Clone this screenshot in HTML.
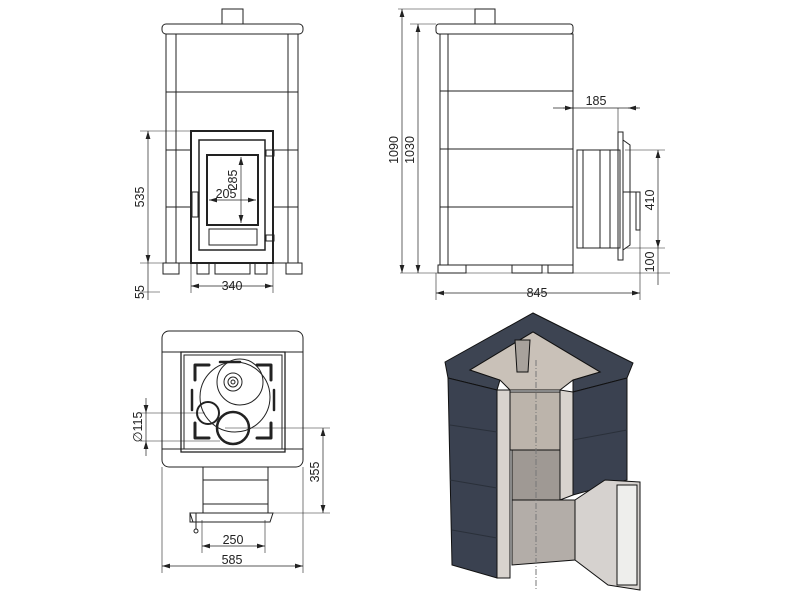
<!DOCTYPE html>
<html><head><meta charset="utf-8"><style>
html,body{margin:0;padding:0;background:#fff;width:800px;height:600px;overflow:hidden}
svg{display:block}
text{font-family:"Liberation Sans",sans-serif;font-size:12.5px;fill:#222}
</style></head><body>
<svg width="800" height="600" viewBox="0 0 800 600">
<defs>
<marker id="a" viewBox="0 0 10 6" refX="10" refY="3" markerWidth="8" markerHeight="5" orient="auto-start-reverse" markerUnits="userSpaceOnUse"><path d="M0,0L10,3L0,6z" fill="#222"/></marker>
</defs>
<g fill="none" stroke="#222" stroke-width="1">
<!-- FRONT VIEW -->
<rect x="222" y="9" width="21" height="15"/>
<rect x="162" y="24" width="141" height="10" rx="4"/>
<rect x="166" y="34" width="132" height="229"/>
<line x1="176" y1="34" x2="176" y2="263"/><line x1="288" y1="34" x2="288" y2="263"/>
<line x1="166" y1="92" x2="298" y2="92"/>
<line x1="166" y1="150" x2="191" y2="150"/><line x1="273" y1="150" x2="298" y2="150"/>
<line x1="166" y1="207" x2="191" y2="207"/><line x1="273" y1="207" x2="298" y2="207"/>
<rect x="163" y="263" width="16" height="11"/><rect x="286" y="263" width="16" height="11"/>
<rect x="191" y="131" width="82" height="132" stroke-width="2"/>
<rect x="199" y="140" width="66" height="110" stroke-width="1.5"/>
<rect x="207" y="155" width="51" height="70" stroke-width="2"/>
<rect x="209" y="229" width="48" height="16"/>
<rect x="197" y="263" width="12" height="11"/><rect x="215" y="263" width="35" height="11"/><rect x="255" y="263" width="12" height="11"/>
<rect x="266" y="150" width="8" height="6"/><rect x="266" y="235" width="8" height="6"/><rect x="192" y="192" width="6" height="25"/>
<!-- dims front -->
<line x1="140" y1="131" x2="200" y2="131" stroke-width=".6"/>
<line x1="140" y1="263" x2="190" y2="263" stroke-width=".6"/>
<line x1="140" y1="292" x2="160" y2="292" stroke-width=".6"/>
<line x1="148" y1="131" x2="148" y2="263" marker-start="url(#a)" marker-end="url(#a)" stroke-width=".7"/>
<line x1="148" y1="263" x2="148" y2="300" stroke-width=".7"/>
<line x1="191" y1="263" x2="191" y2="293" stroke-width=".6"/><line x1="273" y1="263" x2="273" y2="293" stroke-width=".6"/>
<line x1="191" y1="286" x2="273" y2="286" marker-start="url(#a)" marker-end="url(#a)" stroke-width=".7"/>
<line x1="241" y1="157" x2="241" y2="223" marker-start="url(#a)" marker-end="url(#a)" stroke-width=".7"/>
<line x1="209" y1="200" x2="256" y2="200" marker-start="url(#a)" marker-end="url(#a)" stroke-width=".7"/>
<!-- SIDE VIEW -->
<rect x="475" y="9" width="20" height="15"/>
<rect x="436" y="24" width="137" height="10" rx="3"/>
<rect x="440" y="34" width="133" height="231"/>
<line x1="448" y1="34" x2="448" y2="265"/>
<line x1="440" y1="91" x2="573" y2="91"/><line x1="440" y1="149" x2="573" y2="149"/><line x1="440" y1="207" x2="573" y2="207"/>
<rect x="438" y="265" width="28" height="8"/><rect x="512" y="265" width="30" height="8"/><rect x="548" y="265" width="25" height="8"/>
<rect x="577" y="150" width="43" height="98"/>
<line x1="583" y1="150" x2="583" y2="248"/><line x1="600" y1="150" x2="600" y2="248"/><line x1="610" y1="150" x2="610" y2="248"/>
<rect x="618" y="132" width="5" height="128"/>
<path d="M623,140 L630,145 L630,245 L623,250"/>
<rect x="636" y="192" width="4" height="38"/><line x1="623" y1="192" x2="640" y2="192"/>
<line x1="398" y1="9" x2="494" y2="9" stroke-width=".6"/>
<line x1="402" y1="9" x2="402" y2="273" marker-start="url(#a)" marker-end="url(#a)" stroke-width=".7"/>
<line x1="418" y1="24" x2="418" y2="273" marker-start="url(#a)" marker-end="url(#a)" stroke-width=".7"/>
<line x1="410" y1="24" x2="436" y2="24" stroke-width=".6"/>
<line x1="400" y1="273" x2="670" y2="273" stroke-width=".6"/>
<line x1="436" y1="273" x2="436" y2="300" stroke-width=".6"/><line x1="640" y1="230" x2="640" y2="300" stroke-width=".6"/>
<line x1="436" y1="293" x2="640" y2="293" marker-start="url(#a)" marker-end="url(#a)" stroke-width=".7"/>
<line x1="553" y1="108" x2="640" y2="108" stroke-width=".7"/>
<line x1="563" y1="108" x2="573" y2="108" marker-end="url(#a)" stroke-width=".7"/>
<line x1="638" y1="108" x2="628" y2="108" marker-end="url(#a)" stroke-width=".7"/>
<line x1="618" y1="108" x2="618" y2="132" stroke-width=".6"/>
<line x1="625" y1="150" x2="665" y2="150" stroke-width=".6"/><line x1="625" y1="248" x2="665" y2="248" stroke-width=".6"/>
<line x1="658" y1="150" x2="658" y2="248" marker-start="url(#a)" marker-end="url(#a)" stroke-width=".7"/>
<line x1="658" y1="248" x2="658" y2="285" stroke-width=".7"/>
<!-- TOP VIEW -->
<rect x="162" y="331" width="141" height="136" rx="7"/>
<line x1="162" y1="352" x2="303" y2="352"/><line x1="162" y1="449" x2="303" y2="449"/>
<rect x="181" y="352" width="104" height="100" stroke-width="1.3"/>
<rect x="184" y="355" width="98" height="94"/>
<circle cx="235" cy="397" r="35"/>
<circle cx="240" cy="382" r="23"/>
<circle cx="233" cy="382" r="9"/><circle cx="233" cy="382" r="5"/><circle cx="233" cy="382" r="2"/>
<circle cx="208" cy="413" r="11" stroke-width="2"/>
<circle cx="233" cy="428" r="16" stroke-width="2.5"/>
<path d="M195,365h14M195,365v15M271,365h-14M271,365v15M195,438h14M195,438v-15M271,438h-14M271,438v-15" stroke-width="3" stroke-linecap="round"/>
<path d="M192,390v20M274,390v20M220,362h20" stroke-width="2.5" stroke-linecap="round"/>
<rect x="203" y="467" width="65" height="46"/>
<line x1="203" y1="480" x2="268" y2="480"/><line x1="203" y1="504" x2="268" y2="504"/>
<path d="M190,513h83l-3,9h-77z"/>
<rect x="190" y="513" width="6" height="9"/><circle cx="196" cy="531" r="2"/><line x1="196" y1="519" x2="196" y2="529"/>
<line x1="140" y1="413" x2="205" y2="413" stroke-width=".6"/>
<line x1="140" y1="441" x2="220" y2="441" stroke-width=".6"/>
<line x1="146" y1="398" x2="146" y2="413" marker-end="url(#a)" stroke-width=".7"/>
<line x1="146" y1="456" x2="146" y2="441" marker-end="url(#a)" stroke-width=".7"/>
<line x1="146" y1="413" x2="146" y2="441" stroke-width=".7"/>
<line x1="225" y1="428" x2="330" y2="428" stroke-width=".6"/>
<line x1="268" y1="513" x2="330" y2="513" stroke-width=".6"/>
<line x1="323" y1="428" x2="323" y2="513" marker-start="url(#a)" marker-end="url(#a)" stroke-width=".7"/>
<line x1="202" y1="520" x2="202" y2="553" stroke-width=".6"/><line x1="265" y1="520" x2="265" y2="553" stroke-width=".6"/>
<line x1="202" y1="546" x2="265" y2="546" marker-start="url(#a)" marker-end="url(#a)" stroke-width=".7"/>
<line x1="162" y1="467" x2="162" y2="573" stroke-width=".6"/><line x1="303" y1="467" x2="303" y2="573" stroke-width=".6"/>
<line x1="162" y1="566" x2="303" y2="566" marker-start="url(#a)" marker-end="url(#a)" stroke-width=".7"/>
</g>
<!-- 3D VIEW -->
<g stroke="#111" stroke-width="1">
<!-- cap band -->
<polygon points="445,362 533,313 633,363 627,378 573,392 573,380 600,372 533,332 470,370 500,380 497,390 448,378" fill="#3d4452"/>
<!-- interior back walls -->
<polygon points="470,370 533,332 600,372 573,380 560,390 510,390 500,380" fill="#c9c1b8"/>
<!-- left pillar -->
<polygon points="448,378 497,390 497,578 452,565" fill="#3a4150"/>
<!-- right pillar -->
<polygon points="573,392 627,378 627,480 573,495" fill="#3a4150"/>
<!-- cut section walls -->
<polygon points="497,390 510,390 510,578 497,578" fill="#d8d3ce"/>
<polygon points="560,390 573,392 573,495 560,500" fill="#d8d3ce"/>
<!-- chimney -->
<polygon points="515,340 530,340 528,372 517,372" fill="#a8a29c"/>
<!-- cylinder -->
<polygon points="510,392 560,392 560,450 510,450" fill="#bcb4ab"/>
<polygon points="512,450 560,450 560,500 512,500" fill="#9f9994"/>
<polygon points="512,500 575,500 575,560 512,565" fill="#b3ada8"/>
<!-- firebox door -->
<polygon points="575,500 605,480 640,482 640,590 608,585 575,560" fill="#d6d2cf"/>
<rect x="617" y="485" width="20" height="100" fill="#eeeeec"/>
</g>
<g stroke="#2a303a" stroke-width="1" fill="none">
<line x1="450" y1="425" x2="497" y2="432"/><line x1="450" y1="480" x2="497" y2="488"/><line x1="452" y1="530" x2="497" y2="538"/>
<line x1="573" y1="440" x2="627" y2="430"/>
<line x1="536" y1="360" x2="536" y2="590" stroke="#777" stroke-dasharray="6,2,1,2"/>
</g>
<g>
<text transform="translate(148,197) rotate(-90)" text-anchor="middle" x="0" y="-4">535</text>
<text transform="translate(148,292) rotate(-90)" text-anchor="middle" x="0" y="-4">55</text>
<text x="232" y="290" text-anchor="middle">340</text>
<text transform="translate(241,180) rotate(-90)" text-anchor="middle" x="0" y="-4">285</text>
<text x="226" y="198" text-anchor="middle">205</text>
<text transform="translate(402,150) rotate(-90)" text-anchor="middle" x="0" y="-4">1090</text>
<text transform="translate(418,150) rotate(-90)" text-anchor="middle" x="0" y="-4">1030</text>
<text x="537" y="297" text-anchor="middle">845</text>
<text x="596" y="105" text-anchor="middle">185</text>
<text transform="translate(658,200) rotate(-90)" text-anchor="middle" x="0" y="-4">410</text>
<text transform="translate(658,262) rotate(-90)" text-anchor="middle" x="0" y="-4">100</text>
<text transform="translate(146,427) rotate(-90)" text-anchor="middle" x="0" y="-4">∅115</text>
<text transform="translate(323,472) rotate(-90)" text-anchor="middle" x="0" y="-4">355</text>
<text x="233" y="544" text-anchor="middle">250</text>
<text x="232" y="564" text-anchor="middle">585</text>
</g>
</svg>
</body></html>
